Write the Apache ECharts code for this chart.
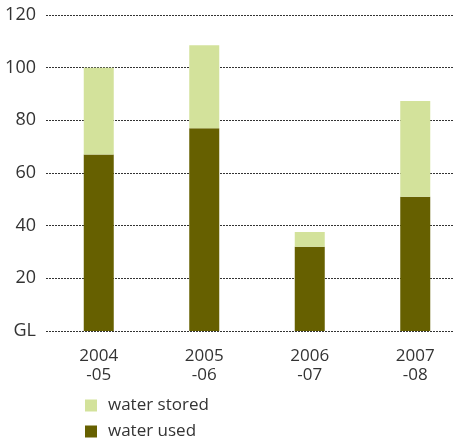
<!DOCTYPE html>
<html>
<head>
<meta charset="utf-8">
<script src="https://cdn.jsdelivr.net/npm/echarts@6/dist/echarts.min.js"></script>
<style>
    html, body { margin: 0; padding: 0; background: #fff; }
    #chart { width: 453px; height: 444px; }
</style>
</head>
<body>
<div id="chart"></div>
<script>
var years = ['2004\n-05', '2005\n-06', '2006\n-07', '2007\n-08'];
var waterUsed = [67, 77, 32, 51];
var waterStored = [33, 31.5, 5.6, 36.3];
var yTicks = ['GL', '20', '40', '60', '80', '100', '120'];

var mychart = echarts.init(document.getElementById('chart'));
var font = '"Open Sans", "Noto Sans", sans-serif';

// legend style shared by both rows
var legendBase = function (name, top) {
    return {
        left: 85,
        top: top,
        padding: 0,
        itemWidth: 12,
        itemHeight: 12,
        icon: 'rect',
        selectedMode: false,
        data: [name],
        textStyle: {fontSize: 17, color: '#333', fontFamily: font, padding: [0, 0, 0, 6]}
    };
};

var option = {
    animation: false,
    textStyle: {fontFamily: font},
    grid: {
        left: 46,
        top: 15,
        width: 422,
        height: 316,
        outerBoundsMode: 'none'
    },
    legend: [
        legendBase('water stored', 397),
        legendBase('water used', 423)
    ],
    xAxis: {
        type: 'category',
        data: years,
        axisLine: {show: false},
        axisTick: {show: false},
        axisLabel: {
            margin: 16,
            fontSize: 17,
            lineHeight: 19,
            color: '#333',
            fontFamily: font
        }
    },
    yAxis: {
        type: 'value',
        min: 0,
        max: 120,
        interval: 20,
        axisLine: {show: false},
        axisTick: {show: false},
        axisLabel: {
            margin: 10,
            fontSize: 18,
            color: '#333',
            fontFamily: font,
            formatter: function (v) {
                return yTicks[v / 20];
            }
        },
        splitLine: {
            lineStyle: {color: '#333', type: [2, 1], width: 1}
        }
    },
    series: [
        {
            name: 'water used',
            type: 'bar',
            stack: 'w',
            barWidth: 30,
            itemStyle: {color: '#666000'},
            data: waterUsed
        },
        {
            name: 'water stored',
            type: 'bar',
            stack: 'w',
            barWidth: 30,
            itemStyle: {color: '#d3e29b'},
            data: waterStored
        }
    ]
};
mychart.setOption(option);
</script>
</body>
</html>
